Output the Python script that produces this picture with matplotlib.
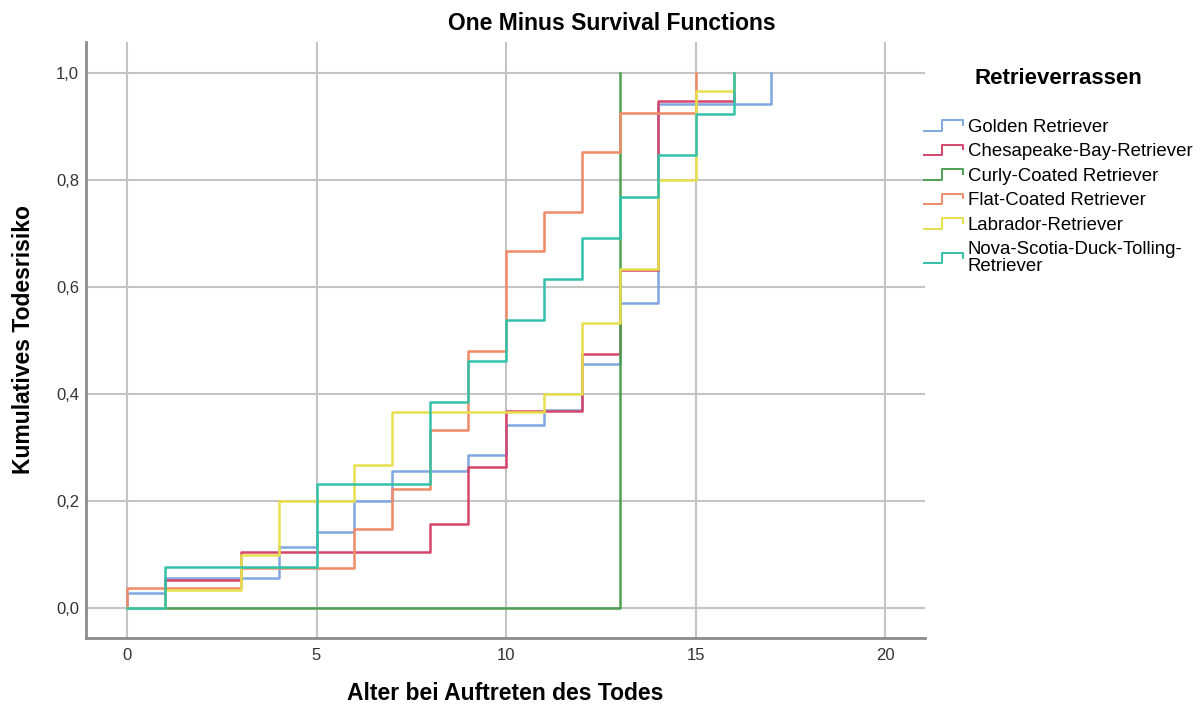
"""
One minus survival functions (SPSS style) for retriever breeds
"""
import numpy as np
import matplotlib
matplotlib.use("Agg")
import matplotlib.pyplot as plt
from matplotlib.lines import Line2D
from matplotlib.legend_handler import HandlerBase

plt.rcParams['font.family'] = ['Liberation Sans', 'DejaVu Sans']

# step data: event times and cumulative risk after each time
breeds = ["Golden Retriever", "Chesapeake-Bay-Retriever", "Curly-Coated Retriever",
          "Flat-Coated Retriever", "Labrador-Retriever",
          "Nova-Scotia-Duck-Tolling-\nRetriever"]

golden_t = [0, 0, 1, 4, 5, 6, 7, 9, 10, 11, 12, 13, 14, 17]
golden_y = [0, 0.029, 0.057, 0.114, 0.143, 0.200, 0.257, 0.286, 0.343, 0.371, 0.457, 0.571, 0.943, 1.0]

chesa_t = [0, 1, 3, 8, 9, 10, 12, 13, 14, 16]
chesa_y = [0, 0.053, 0.105, 0.158, 0.263, 0.368, 0.474, 0.632, 0.947, 1.0]

curly_t = [0, 13]
curly_y = [0, 1.0]

flat_t = [0, 0, 3, 6, 7, 8, 9, 10, 11, 12, 13, 15]
flat_y = [0, 0.037, 0.074, 0.148, 0.222, 0.333, 0.481, 0.667, 0.741, 0.852, 0.926, 1.0]

labr_t = [0, 1, 3, 4, 6, 7, 11, 12, 13, 14, 15, 16]
labr_y = [0, 0.033, 0.100, 0.200, 0.267, 0.367, 0.400, 0.533, 0.633, 0.800, 0.967, 1.0]

nova_t = [0, 1, 5, 8, 9, 10, 11, 12, 13, 14, 15, 16]
nova_y = [0, 0.077, 0.231, 0.385, 0.462, 0.538, 0.615, 0.692, 0.769, 0.846, 0.923, 1.0]

series_t = [golden_t, chesa_t, curly_t, flat_t, labr_t, nova_t]
series_y = [golden_y, chesa_y, curly_y, flat_y, labr_y, nova_y]
colors = ["#7ea8df", "#d5456c", "#4f9f52", "#f08a68", "#e6e04c", "#34c1a9"]

x_ticks = [0, 5, 10, 15, 20]
y_ticks = [0.0, 0.2, 0.4, 0.6, 0.8, 1.0]


class StepHandler(HandlerBase):
    def create_artists(self, legend, orig_handle, xdescent, ydescent,
                       width, height, fontsize, trans):
        x0, y0 = -xdescent, -ydescent
        xs = [x0, x0 + 0.45 * width, x0 + 0.45 * width, x0 + width, x0 + width]
        ys = [y0 + 0.1 * height, y0 + 0.1 * height, y0 + 0.9 * height,
              y0 + 0.9 * height, y0 + 0.55 * height]
        ln = Line2D(xs, ys, color=orig_handle.get_color(), lw=1.4)
        ln.set_transform(trans)
        return [ln]


W, H = 1203, 707
fig = plt.figure(figsize=(W / 100, H / 100), dpi=100)
ax = fig.add_axes([86 / W, 1 - 638 / H, (925 - 86) / W, (638 - 42) / H])

handles = []
for t, y, c in zip(series_t, series_y, colors):
    l, = ax.step(t, y, where='post', color=c, lw=1.8, zorder=3)
    handles.append(l)

ax.set_xlim(-1.08, 21.05)
ax.set_ylim(-0.056, 1.058)
ax.set_xticks(x_ticks)
ax.set_yticks(y_ticks)
ax.set_yticklabels([("%.1f" % v).replace(".", ",") for v in y_ticks])
ax.grid(True, color="#c4c4c4", lw=1.5, zorder=0)
ax.tick_params(length=0, labelsize=12, colors="#333333", pad=7)
ax.tick_params(axis='y', pad=5)
for s in ["top", "right"]:
    ax.spines[s].set_visible(False)
for s in ["left", "bottom"]:
    ax.spines[s].set_color("#8c8c8c")
    ax.spines[s].set_linewidth(2)

ax.set_xlabel("Alter bei Auftreten des Todes", fontsize=16.5, fontweight='bold', labelpad=14)
ax.set_ylabel("Kumulatives Todesrisiko", fontsize=16.5, fontweight='bold', labelpad=15)
fig.text(612 / W, 1 - 23 / H, "One Minus Survival Functions", fontsize=16.5,
         fontweight='bold', ha='center', va='center')

fig.text(975 / W, 1 - 79 / H, "Retrieverrassen", fontsize=16, fontweight='bold',
         ha='left', va='center')
leg = fig.legend(handles, breeds, loc='upper left', bbox_to_anchor=(924 / W, 1 - 119 / H),
                 bbox_transform=fig.transFigure, frameon=False, fontsize=13.4,
                 handlelength=2.1, handletextpad=0.25, labelspacing=0.40,
                 borderpad=0, borderaxespad=0, handler_map={Line2D: StepHandler()})
leg.get_texts()[-1].set_linespacing(0.97)

fig.savefig("out.png", dpi=100)
